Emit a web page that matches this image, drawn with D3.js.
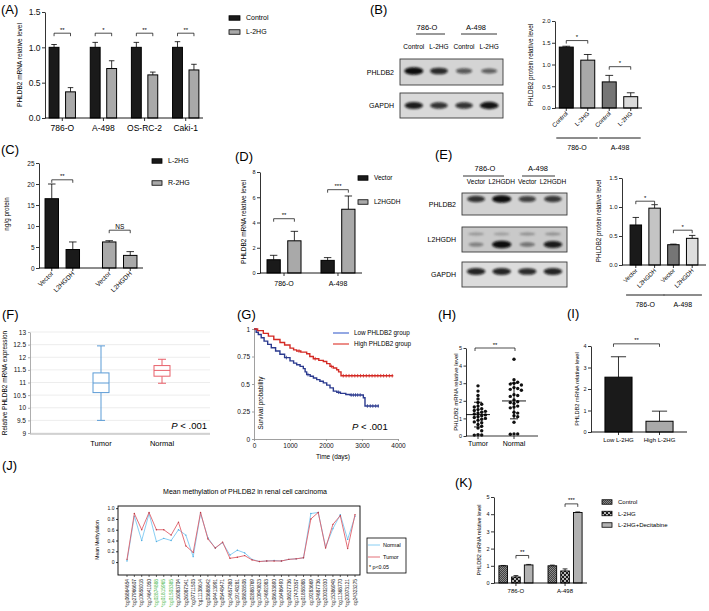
<!DOCTYPE html>
<html>
<head>
<meta charset="utf-8">
<script src="https://d3js.org/d3.v7.min.js"></script>
<style>
  body { margin: 0; background: #fff; }
  svg { font-family: "Liberation Sans", Arial, sans-serif; }
</style>
</head>
<body>
<svg id="fig" width="709" height="611"></svg>
<script>
// ---------------- data ----------------
// (A) qPCR, L-2HG treatment
var cellLinesA = ['786-O', 'A-498', 'OS-RC-2', 'Caki-1'];
var seriesA = ['Control', 'L-2HG'];
var controlA = [1.0, 1.0, 1.0, 1.0];
var controlErrA = [0.04, 0.07, 0.07, 0.08];
var l2hgA = [0.37, 0.70, 0.61, 0.68];
var l2hgErrA = [0.06, 0.11, 0.04, 0.08];
var sigA = ['**', '*', '**', '**'];

// (B) western blot + quantification
var blotLanesB = ['Control', 'L-2HG', 'Control', 'L-2HG'];
var blotGroupsB = ['786-O', 'A-498'];
var phldb2BandsB = [1.0, 0.8, 0.5, 0.45];
var gapdhBandsB = [0.9, 0.75, 0.75, 0.95];
var proteinB = [1.40, 1.10, 0.60, 0.26];
var proteinErrB = [0.02, 0.13, 0.15, 0.09];

// (C) 2HG levels
var groupsC = ['L-2HG', 'R-2HG'];
var seriesC = ['Vector', 'L2HGDH'];
var valuesC = [[16.5, 4.4], [6.2, 3.0]];
var errorsC = [[3.5, 1.8], [0.3, 0.9]];
var sigC = ['**', 'NS'];

// (D) qPCR, L2HGDH overexpression
var cellLinesD = ['786-O', 'A-498'];
var seriesD = ['Vector', 'L2HGDH'];
var valuesD = [[1.05, 2.55], [1.0, 5.05]];
var errorsD = [[0.35, 0.75], [0.22, 1.05]];
var sigD = ['**', '***'];

// (E) western blot + quantification
var blotLanesE = ['Vector', 'L2HGDH', 'Vector', 'L2HGDH'];
var phldb2BandsE = [0.75, 1.0, 0.65, 0.7];
var l2hgdhBandsE = [0.2, 1.0, 0.3, 0.9];
var gapdhBandsE = [0.85, 0.85, 0.8, 0.85];
var proteinE = [0.69, 0.98, 0.35, 0.46];
var proteinErrE = [0.13, 0.06, 0.01, 0.05];

// (F) TCGA boxplot
var groupsF = ['Tumor', 'Normal'];
var boxF = [
  { min: 9.5, q1: 10.6, med: 10.98, q3: 11.38, max: 12.45 },
  { min: 10.97, q1: 11.25, med: 11.48, q3: 11.67, max: 11.92 }
];

// (G) Kaplan-Meier
var kmLowT = [0, 60, 120, 200, 280, 380, 480, 600, 720, 850, 1000, 1100, 1185, 1280, 1370, 1420, 1463, 1560, 1650, 1741, 1830, 1926, 2020, 2111, 2204, 2300, 2400, 2550, 2667, 3037, 3083, 3472];
var kmLowS = [1.0, 0.97, 0.95, 0.92, 0.89, 0.86, 0.83, 0.80, 0.77, 0.74, 0.71, 0.69, 0.675, 0.66, 0.64, 0.61, 0.585, 0.57, 0.555, 0.54, 0.525, 0.51, 0.49, 0.465, 0.435, 0.425, 0.415, 0.405, 0.40, 0.375, 0.30, 0.30];
var kmHighT = [0, 100, 259, 400, 550, 722, 850, 1000, 1100, 1185, 1300, 1463, 1550, 1648, 1800, 1926, 2020, 2111, 2200, 2296, 2350, 2417, 3870];
var kmHighS = [1.0, 0.985, 0.96, 0.935, 0.905, 0.877, 0.855, 0.826, 0.81, 0.80, 0.79, 0.775, 0.75, 0.73, 0.715, 0.705, 0.685, 0.66, 0.645, 0.63, 0.61, 0.575, 0.575];
var censorLow = [900, 1500, 2350, 2700, 2760, 2820, 2880, 2950, 3150, 3230, 3300, 3380, 3450];
var censorHigh = [1250, 1700, 2150, 2480, 2560, 2640, 2720, 2800, 2880, 2960, 3040, 3120, 3200, 3280, 3360, 3440, 3520, 3600, 3680, 3760, 3840];

// (H) scatter Tumor vs Normal
var tumorH = [2.85, 2.55, 2.3, 2.1, 1.9, 1.8, 1.7, 1.65, 1.55, 1.5, 1.45, 1.4, 1.35, 1.3, 1.25, 1.2, 1.15, 1.1, 1.05, 1.0, 0.95, 0.9, 0.8, 0.75, 0.65, 0.55, 0.45, 0.3, 0.08, 0.05, 0.06];
var normalH = [4.36, 3.2, 3.05, 3.0, 2.95, 2.9, 2.75, 2.7, 2.65, 2.6, 2.35, 2.3, 2.25, 2.05, 1.95, 1.9, 1.85, 1.7, 1.65, 1.6, 1.35, 1.3, 1.15, 1.1, 0.78, 0.12, 0.1, 0.12];

// (I) Low vs High L-2HG
var groupsI = ['Low L-2HG', 'High L-2HG'];
var valuesI = [2.55, 0.5];
var errorsI = [0.95, 0.47];

// (J) methylation probes
var probesJ = ['*cg06864654', '*cg27966607', '*cg10658018', '*cg14641050', '*cg02874888', '*cg01815965', '*cg01503385', '*cg16083704',
  '*cg26087341', '*cg07711503', '*cg11138614', '*cg03688842', '*cg04413991', '*cg05448471', '*cg14657380', '*cg19148281',
  '*cg08828508', '*cg02888769', '*cg10940823', '*cg14692083', '*cg08633890', '*cg16486490', '*cg06527736', '*cg17470357',
  '*cg01858088', 'cg19283669', '*cg24687736', '*cg20032030', '*cg15386948', '*cg11368770', '*cg20073121', 'cg24323275'];
var greenProbesJ = ['*cg02874888', '*cg01815965', '*cg01503385'];
var normalJ = [0.02, 0.85, 0.40, 0.90, 0.38, 0.44, 0.40, 0.60, 0.50, 0.10, 0.90, 0.45, 0.26, 0.36, 0.13, 0.22, 0.17, 0.05, 0.01, 0.02, 0.03, 0.02, 0.05, 0.06, 0.08, 0.90, 0.92, 0.28, 0.62, 0.88, 0.42, 0.85];
var tumorJ = [0.05, 0.90, 0.60, 0.92, 0.60, 0.60, 0.50, 0.74, 0.30, 0.18, 0.92, 0.43, 0.26, 0.37, 0.07, 0.09, 0.12, 0.04, 0.01, 0.02, 0.02, 0.02, 0.05, 0.06, 0.08, 0.80, 0.92, 0.26, 0.70, 0.86, 0.25, 0.88];

// (K) decitabine rescue
var cellLinesK = ['786-O', 'A-498'];
var seriesK = ['Control', 'L-2HG', 'L-2HG+Decitabine'];
var valuesK = [[1.0, 0.35, 1.05], [1.0, 0.70, 4.1]];
var errorsK = [[0.02, 0.08, 0.03], [0.04, 0.12, 0.03]];

// ---------------- helpers ----------------
var svg = d3.select('#fig');
var FONT = '"Liberation Sans", Arial, sans-serif';
var defs = svg.append('defs');

defs.append('filter').attr('id', 'blur').attr('x', '-50%').attr('y', '-80%').attr('width', '200%').attr('height', '260%')
  .append('feGaussianBlur').attr('stdDeviation', 1.3);

var pc = defs.append('pattern').attr('id', 'patCtrl').attr('patternUnits', 'userSpaceOnUse').attr('width', 2).attr('height', 2);
pc.append('rect').attr('width', 2).attr('height', 2).attr('fill', '#8a8a8a');
pc.append('path').attr('d', 'M0,2L2,0').attr('stroke', '#222').attr('stroke-width', 0.7);
var pd = defs.append('pattern').attr('id', 'patDots').attr('patternUnits', 'userSpaceOnUse').attr('width', 4).attr('height', 4);
pd.append('rect').attr('width', 4).attr('height', 4).attr('fill', '#1a1a1a');
pd.append('circle').attr('cx', 1).attr('cy', 1).attr('r', 0.9).attr('fill', '#fff');
pd.append('circle').attr('cx', 3).attr('cy', 3).attr('r', 0.9).attr('fill', '#fff');
var ph = defs.append('pattern').attr('id', 'patHoriz').attr('patternUnits', 'userSpaceOnUse').attr('width', 2).attr('height', 2);
ph.append('rect').attr('width', 2).attr('height', 2).attr('fill', '#fff');
ph.append('line').attr('x1', 0).attr('x2', 2).attr('y1', 1).attr('y2', 1).attr('stroke', '#222').attr('stroke-width', 0.7);

function txt(x, y, s, size, anchor, rotate, fill) {
  var t = svg.append('text').attr('x', x).attr('y', y).style('font-size', size + 'px').text(s);
  if (anchor) t.attr('text-anchor', anchor);
  if (rotate) t.attr('transform', 'rotate(' + rotate + ',' + x + ',' + y + ')');
  if (fill) t.attr('fill', fill);
  return t;
}

function yLabel(x, cy, s, size) {
  return txt(x, cy, s, size, 'middle', -90);
}

function styleAxis(sel, size, color) {
  sel.attr('font-family', FONT);
  sel.selectAll('path, line').attr('stroke', color || '#000').attr('stroke-width', 0.8);
  sel.selectAll('text').style('font-size', size + 'px').attr('fill', '#111');
}

function bracket(xa, xb, yy, label, size) {
  svg.append('path').attr('d', 'M' + xa + ',' + (yy + 3) + 'V' + yy + 'H' + xb + 'V' + (yy + 3))
    .attr('fill', 'none').attr('stroke', '#000').attr('stroke-width', 0.7);
  txt((xa + xb) / 2, yy - 1.5, label, size || 6, 'middle');
}

function xTicks(y, xs) {
  xs.forEach(function (x) {
    svg.append('line').attr('x1', x).attr('x2', x).attr('y1', y).attr('y2', y + 3)
      .attr('stroke', '#000').attr('stroke-width', 0.8);
  });
}

function rotLabels(xs, labels, y, size) {
  xs.forEach(function (x, i) {
    txt(x + 2, y, labels[i], size, 'end', -45);
  });
}

function barChart(c) {
  var x = d3.scaleBand().domain(c.groups).range([c.x0, c.x1]).paddingInner(c.pi).paddingOuter(c.po);
  var xs = d3.scaleBand().domain(c.series).range([0, x.bandwidth()]).paddingInner(c.pi2 || 0);
  var y = d3.scaleLinear().domain(c.domain).range([c.yb, c.yt]);
  var bw = xs.bandwidth();
  var g = svg.append('g');
  c.groups.forEach(function (gr, i) {
    c.series.forEach(function (se, j) {
      var v = c.values[i][j], e = c.errors[i][j];
      var bx = x(gr) + xs(se), cx = bx + bw / 2;
      g.append('line').attr('x1', cx).attr('x2', cx).attr('y1', y(v)).attr('y2', y(v + e))
        .attr('stroke', '#000').attr('stroke-width', 0.8);
      g.append('line').attr('x1', cx - bw * 0.28).attr('x2', cx + bw * 0.28).attr('y1', y(v + e)).attr('y2', y(v + e))
        .attr('stroke', '#000').attr('stroke-width', 0.8);
      g.append('rect').attr('x', bx).attr('y', y(v)).attr('width', bw).attr('height', y(0) - y(v))
        .attr('fill', c.fill(i, j)).attr('stroke', '#000').attr('stroke-width', c.sw || 1);
    });
  });
  var ay = g.append('g').attr('transform', 'translate(' + c.x0 + ',0)')
    .call(d3.axisLeft(y).tickValues(c.ticks).tickFormat(c.fmt).tickSize(3).tickSizeOuter(0).tickPadding(1.5));
  styleAxis(ay, c.fs);
  g.append('line').attr('x1', c.x0).attr('x2', c.x1).attr('y1', c.yb).attr('y2', c.yb)
    .attr('stroke', '#000').attr('stroke-width', 0.9);
  return {
    x: x, y: y, bw: bw,
    bar: function (i, j) { return x(c.groups[i]) + xs(c.series[j || 0]) + bw / 2; },
    gc: function (i) { return x(c.groups[i]) + x.bandwidth() / 2; },
    top: function (i, j) { return c.values[i][j || 0] + c.errors[i][j || 0]; }
  };
}

function legend(x, y0, dy, labels, fills, size, w, h) {
  labels.forEach(function (l, i) {
    svg.append('rect').attr('x', x).attr('y', y0 + i * dy - h / 2).attr('width', w).attr('height', h)
      .attr('fill', fills[i]).attr('stroke', '#000').attr('stroke-width', 0.8);
    txt(x + w + 6, y0 + i * dy + size * 0.35, l, size);
  });
}

function blot(x0, x1, lanes, rows) {
  var lx = d3.scaleBand().domain(d3.range(lanes.length)).range([x0, x1]).padding(0.1);
  rows.forEach(function (r) {
    svg.append('rect').attr('x', x0).attr('y', r.y0).attr('width', x1 - x0).attr('height', r.y1 - r.y0)
      .attr('fill', r.bg).attr('stroke', '#3a3a3a').attr('stroke-width', 0.9);
    var cy = (r.y0 + r.y1) / 2 + (r.dy || 0);
    r.bands.forEach(function (v, i) {
      svg.append('ellipse').attr('cx', lx(i) + lx.bandwidth() / 2).attr('cy', cy)
        .attr('rx', lx.bandwidth() * (0.3 + 0.12 * v)).attr('ry', 1.6 + 2.2 * v)
        .attr('fill', '#0a0a0a').attr('opacity', 0.25 + 0.75 * v).attr('filter', 'url(#blur)');
    });
    if (r.faint) {
      r.faint.forEach(function (v, i) {
        svg.append('ellipse').attr('cx', lx(i) + lx.bandwidth() / 2).attr('cy', r.y0 + 7)
          .attr('rx', lx.bandwidth() * 0.35).attr('ry', 1.5)
          .attr('fill', '#333').attr('opacity', v).attr('filter', 'url(#blur)');
      });
    }
    txt(x0 - 6, (r.y0 + r.y1) / 2 + 2.5, r.name, 7, 'end');
  });
  return lx;
}

// ---------------- panel labels ----------------
[['(A)', 1, 14], ['(B)', 370, 14], ['(C)', 1, 154], ['(D)', 235, 161], ['(E)', 435, 159], ['(F)', 2, 319],
 ['(G)', 237, 319], ['(H)', 438, 319], ['(I)', 567, 318], ['(J)', 2, 470], ['(K)', 455, 487]].forEach(function (p) {
  txt(p[1], p[2], p[0], 13);
});

// ---------------- (A) ----------------
var colorsA = ['#1a1a1a', '#a9a9a9'];
var A = barChart({
  x0: 45, x1: 203, yb: 118, yt: 12, domain: [0, 1.5], ticks: [0, 0.5, 1, 1.5], fmt: d3.format('.1f'),
  groups: cellLinesA, series: seriesA,
  values: cellLinesA.map(function (d, i) { return [controlA[i], l2hgA[i]]; }),
  errors: cellLinesA.map(function (d, i) { return [controlErrA[i], l2hgErrA[i]]; }),
  fill: function (i, j) { return colorsA[j]; }, pi: 0.36, po: 0.1, pi2: 0.4, fs: 8.5
});
xTicks(118, cellLinesA.map(function (d, i) { return A.gc(i); }));
cellLinesA.forEach(function (d, i) {
  txt(A.gc(i), 131, d, 8.5, 'middle');
  bracket(A.bar(i, 0), A.bar(i, 1), A.y(1.2), sigA[i], 6);
});
yLabel(22, 65, 'PHLDB2 mRNA relative level', 6.5);
legend(229, 18, 14, seriesA, colorsA, 7, 11, 4.5);

// ---------------- (B) ----------------
txt(427, 30, blotGroupsB[0], 7.5, 'middle');
txt(476, 30, blotGroupsB[1], 7.5, 'middle');
svg.append('line').attr('x1', 416).attr('x2', 445).attr('y1', 34).attr('y2', 34).attr('stroke', '#000').attr('stroke-width', 0.8);
svg.append('line').attr('x1', 461).attr('x2', 497).attr('y1', 34).attr('y2', 34).attr('stroke', '#000').attr('stroke-width', 0.8);
var lxB = blot(400, 503, blotLanesB, [
  { name: 'PHLDB2', y0: 59, y1: 85, bg: '#d4d4d4', bands: phldb2BandsB, dy: -1 },
  { name: 'GAPDH', y0: 93, y1: 118, bg: '#d9d9d9', bands: gapdhBandsB }
]);
blotLanesB.forEach(function (l, i) { txt(lxB(i) + lxB.bandwidth() / 2, 49, l, 6.5, 'middle'); });

var colorsB = ['#1a1a1a', '#a9a9a9', '#757575', '#dadada'];
var B = barChart({
  x0: 555, x1: 642, yb: 108, yt: 21, domain: [0, 2], ticks: [0, 0.5, 1, 1.5, 2], fmt: d3.format('.1f'),
  groups: d3.range(proteinB.length), series: ['v'],
  values: proteinB.map(function (d) { return [d]; }), errors: proteinErrB.map(function (d) { return [d]; }),
  fill: function (i) { return colorsB[i]; }, pi: 0.35, po: 0.2, fs: 6
});
var barXB = proteinB.map(function (d, i) { return B.bar(i); });
xTicks(108, barXB);
rotLabels(barXB, blotLanesB, 114, 6);
bracket(barXB[0], barXB[1], B.y(1.55), '*', 6);
bracket(barXB[2], barXB[3], B.y(0.95), '*', 6);
yLabel(533, 65, 'PHLDB2 protein relative level', 6.3);
[[0, 1], [2, 3]].forEach(function (p, k) {
  var xa = barXB[p[0]] - B.bw / 2 - 3, xb = barXB[p[1]] + B.bw / 2 + 3;
  svg.append('line').attr('x1', xa).attr('x2', xb).attr('y1', 138).attr('y2', 138).attr('stroke', '#000').attr('stroke-width', 0.9);
  txt((xa + xb) / 2, 150, blotGroupsB[k], 7, 'middle');
});

// ---------------- (C) ----------------
var colorsC = ['#1a1a1a', '#a9a9a9'];
var C = barChart({
  x0: 39, x1: 143, yb: 268, yt: 163, domain: [0, 25], ticks: [0, 5, 10, 15, 20, 25], fmt: d3.format('d'),
  groups: groupsC, series: seriesC, values: valuesC, errors: errorsC,
  fill: function (i) { return colorsC[i]; }, pi: 0.4, po: 0.105, pi2: 0.36, fs: 6.5
});
var barXC = [];
groupsC.forEach(function (g, i) { seriesC.forEach(function (s, j) { barXC.push(C.bar(i, j)); }); });
xTicks(268, barXC);
rotLabels(barXC, [seriesC[0], seriesC[1], seriesC[0], seriesC[1]], 274, 6.5);
bracket(C.bar(0, 0), C.bar(0, 1), C.y(21), sigC[0], 6);
bracket(C.bar(1, 0), C.bar(1, 1), C.y(9), sigC[1], 6.5);
yLabel(9, 214, 'ng/g protein', 6.3);
legend(152, 161, 22, groupsC, colorsC, 7, 10, 4.5);

// ---------------- (D) ----------------
var colorsD = ['#1a1a1a', '#a9a9a9'];
var D = barChart({
  x0: 260, x1: 362, yb: 273, yt: 172, domain: [0, 8], ticks: [0, 2, 4, 6, 8], fmt: d3.format('d'),
  groups: cellLinesD, series: seriesD, values: valuesD, errors: errorsD,
  fill: function (i, j) { return colorsD[j]; }, pi: 0.37, po: 0.13, pi2: 0.36, fs: 5.5
});
xTicks(273, cellLinesD.map(function (d, i) { return D.gc(i); }));
cellLinesD.forEach(function (d, i) { txt(D.gc(i), 286, d, 7, 'middle'); });
bracket(D.bar(0, 0), D.bar(0, 1), D.y(4.3), sigD[0], 6);
bracket(D.bar(1, 0), D.bar(1, 1), D.y(6.6), sigD[1], 6);
yLabel(246, 222, 'PHLDB2 mRNA relative level', 6.5);
legend(358, 178, 24, seriesD, colorsD, 6.5, 10, 4.5);

// ---------------- (E) ----------------
txt(485, 171, cellLinesD[0], 7.5, 'middle');
txt(538, 171, cellLinesD[1], 7.5, 'middle');
svg.append('line').attr('x1', 463).attr('x2', 504).attr('y1', 176).attr('y2', 176).attr('stroke', '#000').attr('stroke-width', 0.8);
svg.append('line').attr('x1', 522).attr('x2', 555).attr('y1', 176).attr('y2', 176).attr('stroke', '#000').attr('stroke-width', 0.8);
var lxE = blot(462, 567, blotLanesE, [
  { name: 'PHLDB2', y0: 193, y1: 215, bg: '#d2d2d2', bands: phldb2BandsE, dy: -5 },
  { name: 'L2HGDH', y0: 227, y1: 252, bg: '#c9c9c9', bands: l2hgdhBandsE, dy: 5, faint: [0.35, 0.3, 0.4, 0.4] },
  { name: 'GAPDH', y0: 262, y1: 287, bg: '#dcdcdc', bands: gapdhBandsE, dy: -3 }
]);
blotLanesE.forEach(function (l, i) { txt(lxE(i) + lxE.bandwidth() / 2, 184, l, 6.5, 'middle'); });

var colorsE = ['#1a1a1a', '#c4c4c4', '#757575', '#dedede'];
var E = barChart({
  x0: 622, x1: 706, yb: 265, yt: 178, domain: [0, 1.5], ticks: [0, 0.5, 1, 1.5], fmt: d3.format('.1f'),
  groups: d3.range(proteinE.length), series: ['v'],
  values: proteinE.map(function (d) { return [d]; }), errors: proteinErrE.map(function (d) { return [d]; }),
  fill: function (i) { return colorsE[i]; }, pi: 0.39, po: 0.43, fs: 6
});
var barXE = proteinE.map(function (d, i) { return E.bar(i); });
xTicks(265, barXE);
rotLabels(barXE, blotLanesE, 271, 6);
bracket(barXE[0], barXE[1], E.y(1.1), '*', 6);
bracket(barXE[2], barXE[3], E.y(0.6), '*', 6);
yLabel(601, 221, 'PHLDB2 protein relative level', 6.3);
[[0, 1], [2, 3]].forEach(function (p, k) {
  var xa = barXE[p[0]] - E.bw / 2 - 4, xb = barXE[p[1]] + E.bw / 2 + 4;
  svg.append('line').attr('x1', xa).attr('x2', xb).attr('y1', 295).attr('y2', 295).attr('stroke', '#000').attr('stroke-width', 0.9);
  txt((xa + xb) / 2, 307, cellLinesD[k], 7, 'middle');
});

// ---------------- (F) ----------------
var fy = d3.scaleLinear().domain([9, 13]).range([433, 332]);
var fx = d3.scalePoint().domain(groupsF).range([101, 162]);
var colorsF = ['#5b9bd5', '#e8606a'];
d3.range(9, 13.01, 0.5).forEach(function (v) {
  svg.append('line').attr('x1', 30).attr('x2', 210).attr('y1', fy(v)).attr('y2', fy(v))
    .attr('stroke', '#e8e8e8').attr('stroke-width', 0.8);
});
var fAxis = svg.append('g').attr('transform', 'translate(30,0)')
  .call(d3.axisLeft(fy).tickValues(d3.range(9, 13.01, 0.5)).tickFormat(function (d) { return String(d); }).tickSize(2).tickSizeOuter(0).tickPadding(2));
styleAxis(fAxis, 6.5, '#999');
svg.append('line').attr('x1', 30).attr('x2', 210).attr('y1', fy(9) + 1).attr('y2', fy(9) + 1).attr('stroke', '#999').attr('stroke-width', 0.8);
boxF.forEach(function (b, i) {
  var cx = fx(groupsF[i]), w = 16, col = colorsF[i];
  var g = svg.append('g').attr('stroke', col).attr('stroke-width', 1).attr('fill', 'none');
  g.append('line').attr('x1', cx).attr('x2', cx).attr('y1', fy(b.max)).attr('y2', fy(b.q3));
  g.append('line').attr('x1', cx).attr('x2', cx).attr('y1', fy(b.q1)).attr('y2', fy(b.min));
  g.append('line').attr('x1', cx - 4).attr('x2', cx + 4).attr('y1', fy(b.max)).attr('y2', fy(b.max));
  g.append('line').attr('x1', cx - 4).attr('x2', cx + 4).attr('y1', fy(b.min)).attr('y2', fy(b.min));
  g.append('rect').attr('x', cx - w / 2).attr('y', fy(b.q3)).attr('width', w).attr('height', fy(b.q1) - fy(b.q3)).attr('fill', '#fff');
  g.append('line').attr('x1', cx - w / 2).attr('x2', cx + w / 2).attr('y1', fy(b.med)).attr('y2', fy(b.med));
  txt(cx, 446, groupsF[i], 7.5, 'middle');
});
var pF = txt(207, 429, '', 9.5, 'end');
pF.append('tspan').style('font-style', 'italic').text('P');
pF.append('tspan').text(' < .001');
yLabel(7, 383, 'Relative PHLDB2 mRNA expression', 6.5);

// ---------------- (G) ----------------
var gx = d3.scaleLinear().domain([0, 4000]).range([254, 398]);
var gy = d3.scaleLinear().domain([0, 1]).range([439, 329]);
var gAxisY = svg.append('g').attr('transform', 'translate(254,0)')
  .call(d3.axisLeft(gy).tickValues([0, 0.25, 0.5, 0.75, 1]).tickFormat(function (d) { return String(d); }).tickSize(2).tickSizeOuter(0).tickPadding(2));
styleAxis(gAxisY, 6.5, '#888');
var gAxisX = svg.append('g').attr('transform', 'translate(0,439)')
  .call(d3.axisBottom(gx).tickValues([0, 1000, 2000, 3000, 4000]).tickFormat(d3.format('d')).tickSize(2).tickSizeOuter(0).tickPadding(2));
styleAxis(gAxisX, 6.5, '#888');
var km = d3.line().x(function (d) { return gx(d[0]); }).y(function (d) { return gy(d[1]); }).curve(d3.curveStepAfter);
var lowPts = kmLowT.map(function (t, i) { return [t, kmLowS[i]]; });
var highPts = kmHighT.map(function (t, i) { return [t, kmHighS[i]]; });
function survAt(pts, t) {
  var s = pts[0][1];
  pts.forEach(function (p) { if (p[0] <= t) s = p[1]; });
  return s;
}
[[lowPts, censorLow, '#2b3a8f'], [highPts, censorHigh, '#d42a24']].forEach(function (k) {
  svg.append('path').attr('d', km(k[0])).attr('fill', 'none').attr('stroke', k[2]).attr('stroke-width', 1.4);
  k[1].forEach(function (t) {
    var yy = gy(survAt(k[0], t));
    svg.append('line').attr('x1', gx(t)).attr('x2', gx(t)).attr('y1', yy - 1.8).attr('y2', yy + 1.8)
      .attr('stroke', k[2]).attr('stroke-width', 0.8);
  });
});
[['Low PHLDB2 group', '#4d6fd1'], ['High PHLDB2 group', '#e0413a']].forEach(function (l, i) {
  var yy = 333 + i * 11;
  svg.append('line').attr('x1', 333).attr('x2', 349).attr('y1', yy).attr('y2', yy).attr('stroke', l[1]).attr('stroke-width', 1.2);
  txt(354, yy + 2.2, l[0], 6.3);
});
var pG = txt(352, 430, '', 9.5);
pG.append('tspan').style('font-style', 'italic').text('P');
pG.append('tspan').text(' < .001');
yLabel(263, 403, 'Survival probability', 6.3);
txt(333, 459, 'Time (days)', 6.5, 'middle');

// ---------------- (H) ----------------
var hy = d3.scaleLinear().domain([0, 5]).range([436, 348]);
var hx = d3.scalePoint().domain(['Tumor', 'Normal']).range([478, 514]);
var hAxis = svg.append('g').attr('transform', 'translate(466,0)')
  .call(d3.axisLeft(hy).tickValues([0, 1, 2, 3, 4, 5]).tickFormat(d3.format('d')).tickSize(2.5).tickSizeOuter(0).tickPadding(1.5));
styleAxis(hAxis, 5.5);
svg.append('line').attr('x1', 466).attr('x2', 538).attr('y1', 436).attr('y2', 436).attr('stroke', '#000').attr('stroke-width', 0.8);
function dodge(vals, cx, r) {
  var placed = [];
  vals.slice().sort(function (a, b) { return b - a; }).forEach(function (v) {
    var py = hy(v), k = 0, px;
    while (true) {
      px = cx + (k % 2 ? 1 : -1) * Math.ceil(k / 2) * (2 * r + 0.3);
      var hit = placed.some(function (p) { return (p[0] - px) * (p[0] - px) + (p[1] - py) * (p[1] - py) < 4 * r * r; });
      if (!hit) break;
      k++;
    }
    placed.push([px, py]);
  });
  return placed;
}
[[tumorH, 'Tumor'], [normalH, 'Normal']].forEach(function (s) {
  var cx = hx(s[1]);
  dodge(s[0], cx, 1.7).forEach(function (p) {
    svg.append('circle').attr('cx', p[0]).attr('cy', p[1]).attr('r', 1.7).attr('fill', '#111');
  });
  var m = d3.mean(s[0]), sd = d3.deviation(s[0]);
  var g = svg.append('g').attr('stroke', '#000').attr('stroke-width', 0.9);
  g.append('line').attr('x1', cx - 12).attr('x2', cx + 12).attr('y1', hy(m)).attr('y2', hy(m));
  g.append('line').attr('x1', cx).attr('x2', cx).attr('y1', hy(m - sd)).attr('y2', hy(m + sd));
  g.append('line').attr('x1', cx - 4).attr('x2', cx + 4).attr('y1', hy(m - sd)).attr('y2', hy(m - sd));
  g.append('line').attr('x1', cx - 4).attr('x2', cx + 4).attr('y1', hy(m + sd)).attr('y2', hy(m + sd));
  txt(cx, 446, s[1], 7, 'middle');
});
xTicks(436, [hx('Tumor'), hx('Normal')]);
bracket(hx('Tumor') - 3, hx('Normal') + 1, hy(5.0), '**', 6);
yLabel(458, 392, 'PHLDB2 mRNA relative level', 6);

// ---------------- (I) ----------------
var colorsI = ['#1a1a1a', '#a9a9a9'];
var I = barChart({
  x0: 591, x1: 687, yb: 432, yt: 346, domain: [0, 4], ticks: [0, 1, 2, 3, 4], fmt: d3.format('d'),
  groups: groupsI, series: ['v'],
  values: valuesI.map(function (d) { return [d]; }), errors: errorsI.map(function (d) { return [d]; }),
  fill: function (i) { return colorsI[i]; }, pi: 0.34, po: 0.34, fs: 5.5
});
xTicks(432, groupsI.map(function (d, i) { return I.bar(i); }));
groupsI.forEach(function (d, i) { txt(I.bar(i), 442, d, 6, 'middle'); });
bracket(I.bar(0) - 5, I.bar(1), I.y(4.1), '**', 6);
yLabel(579, 389, 'PHLDB2 mRNA relative level', 5.7);

// ---------------- (J) ----------------
txt(245, 494, 'Mean methylation of PHLDB2 in renal cell carcinoma', 7, 'middle');
var jx = d3.scalePoint().domain(probesJ).range([127, 355]);
var jy = d3.scaleLinear().domain([-0.24, 1.04]).range([575, 506]);
svg.append('rect').attr('x', 118).attr('y', 506).attr('width', 242).attr('height', 69)
  .attr('fill', 'none').attr('stroke', '#000').attr('stroke-width', 0.9);
var jAxis = svg.append('g').attr('transform', 'translate(118,0)')
  .call(d3.axisLeft(jy).tickValues([0, 0.2, 0.4, 0.6, 0.8, 1.0])
    .tickFormat(function (d) { return d === 0 ? '0' : d3.format('.1f')(d); }).tickSize(2).tickSizeOuter(0).tickPadding(1.5));
styleAxis(jAxis, 5);
jAxis.select('.domain').remove();
var jLine = d3.line().x(function (d, i) { return jx(probesJ[i]); }).y(function (d) { return jy(d); });
[[normalJ, '#7cc8f2', '#4aa9de'], [tumorJ, '#e0606a', '#b8353e']].forEach(function (s) {
  svg.append('path').attr('d', jLine(s[0])).attr('fill', 'none').attr('stroke', s[1]).attr('stroke-width', 0.9);
  s[0].forEach(function (v, i) {
    svg.append('circle').attr('cx', jx(probesJ[i])).attr('cy', jy(v)).attr('r', 0.7).attr('fill', s[2]);
  });
});
probesJ.forEach(function (p) {
  svg.append('line').attr('x1', jx(p)).attr('x2', jx(p)).attr('y1', 575).attr('y2', 577).attr('stroke', '#000').attr('stroke-width', 0.6);
  txt(jx(p) + 1.7, 579, p, 4.8, 'end', -90, greenProbesJ.indexOf(p) >= 0 ? '#49b649' : '#222');
});
yLabel(99, 540, 'Mean Methylation', 5);
svg.append('rect').attr('x', 367).attr('y', 538).attr('width', 39).attr('height', 35)
  .attr('fill', '#fff').attr('stroke', '#000').attr('stroke-width', 0.8);
[['Normal', '#7cc8f2'], ['Tumor', '#e0606a']].forEach(function (l, i) {
  var yy = 545 + i * 12;
  svg.append('line').attr('x1', 368).attr('x2', 380).attr('y1', yy).attr('y2', yy).attr('stroke', l[1]).attr('stroke-width', 0.9);
  txt(383, yy + 2, l[0], 5.5);
});
txt(369, 569, '* p<0.05', 5.3);

// ---------------- (K) ----------------
var fillsK = ['url(#patCtrl)', 'url(#patDots)', 'url(#patHoriz)'];
var K = barChart({
  x0: 494, x1: 587, yb: 583, yt: 497, domain: [0, 5], ticks: [0, 1, 2, 3, 4, 5], fmt: d3.format('d'),
  groups: cellLinesK, series: seriesK, values: valuesK, errors: errorsK,
  fill: function (i, j) { return fillsK[j]; }, pi: 0.306, po: 0.1, pi2: 0.32, fs: 5.5, sw: 0.9
});
xTicks(583, cellLinesK.map(function (d, i) { return K.gc(i); }));
cellLinesK.forEach(function (d, i) { txt(K.gc(i), 593, d, 6, 'middle'); });
bracket(K.bar(0, 1), K.bar(0, 2), K.y(1.6), '**', 6);
bracket(K.bar(1, 1), K.bar(1, 2), K.y(4.6), '***', 6);
yLabel(481, 540, 'PHLDB2 mRNA relative level', 5.5);
legend(602, 502, 11.5, seriesK, fillsK, 6, 10, 4.5);
</script>
</body>
</html>
